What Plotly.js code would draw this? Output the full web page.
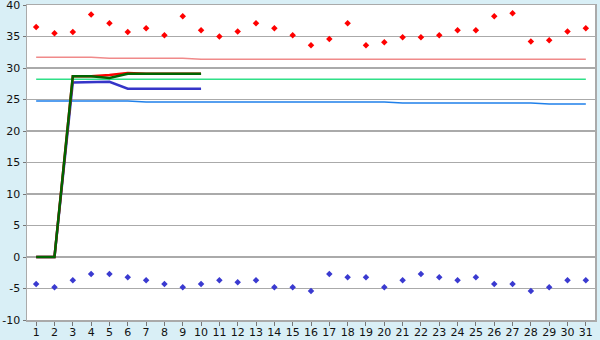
<!DOCTYPE html>
<html>
<head>
<meta charset="utf-8">
<script src="https://cdn.plot.ly/plotly-3.0.1.min.js"></script>
<style>
html,body{margin:0;padding:0;background:#d9eff6;}
#chart{width:600px;height:340px;}
</style>
</head>
<body>
<div id="chart"></div>
<script>
var days = [1,2,3,4,5,6,7,8,9,10,11,12,13,14,15,16,17,18,19,20,21,22,23,24,25,26,27,28,29,30,31];
var maxTemps = [36.5,35.5,35.7,38.5,37.1,35.7,36.3,35.2,38.2,36.0,35.0,35.8,37.1,36.3,35.2,33.6,34.6,37.1,33.6,34.1,34.9,34.9,35.2,36.0,36.0,38.2,38.7,34.2,34.4,35.8,36.3];
var minTemps = [-4.3,-4.8,-3.7,-2.7,-2.7,-3.2,-3.7,-4.3,-4.8,-4.3,-3.7,-4.0,-3.7,-4.8,-4.8,-5.4,-2.7,-3.2,-3.2,-4.8,-3.7,-2.7,-3.2,-3.7,-3.2,-4.3,-4.3,-5.4,-4.8,-3.7,-3.7];
var lineDays = [1,2,3,4,5,6,7,8,9,10];
var redLine = [0,0,28.7,28.7,28.9,29.2,29.1,29.1,29.1,29.1];
var greenLine = [0,0,28.7,28.7,28.4,29.1,29.1,29.1,29.1,29.1];
var blueLine = [0,0,27.7,27.7,27.8,26.7,26.7,26.7,26.7,26.7];
var pinkRef = [31.7,31.7,31.7,31.7,31.55,31.55,31.55,31.55,31.55,31.4,31.4,31.4,31.4,31.4,31.4,31.4,31.4,31.4,31.4,31.4,31.4,31.4,31.4,31.4,31.4,31.4,31.4,31.4,31.4,31.4,31.4];
var greenRef = [28.2,28.2,28.2,28.2,28.2,28.2,28.2,28.2,28.2,28.2,28.2,28.2,28.2,28.2,28.2,28.2,28.2,28.2,28.2,28.2,28.2,28.2,28.2,28.2,28.2,28.2,28.2,28.2,28.2,28.2,28.2];
var blueRef = [24.75,24.75,24.75,24.75,24.75,24.75,24.6,24.6,24.6,24.6,24.6,24.6,24.6,24.6,24.6,24.6,24.6,24.6,24.6,24.6,24.43,24.43,24.43,24.43,24.43,24.43,24.43,24.43,24.27,24.27,24.27];
var yTickVals = [-10,-5,0,5,10,15,20,25,30,35,40];
var yTickLabels = ['-10','-5','0','5','10','15','20','25','30','35','40'];
var xTickLabels = days.map(String);

var traces = [
  {x: days, y: pinkRef, mode: 'lines', line: {color: '#f08a8a', width: 1.5}, hoverinfo: 'skip'},
  {x: days, y: greenRef, mode: 'lines', line: {color: '#30e088', width: 1.5}, hoverinfo: 'skip'},
  {x: days, y: blueRef, mode: 'lines', line: {color: '#1f80ea', width: 1.5}, hoverinfo: 'skip'},
  {x: lineDays, y: blueLine, mode: 'lines', line: {color: '#3535c8', width: 2.5}},
  {x: lineDays, y: redLine, mode: 'lines', line: {color: '#ff0000', width: 2.5}},
  {x: lineDays, y: greenLine, mode: 'lines', line: {color: '#006400', width: 2.5}},
  {x: days, y: maxTemps, mode: 'markers', marker: {symbol: 'diamond', size: 5, color: '#ff0000'}},
  {x: days, y: minTemps, mode: 'markers', marker: {symbol: 'diamond', size: 5, color: '#3a3ad0'}}
];

var layout = {
  width: 600, height: 340,
  margin: {l: 27, r: 5, t: 5, b: 20, pad: 0},
  paper_bgcolor: '#d9eff6',
  plot_bgcolor: '#ffffff',
  showlegend: false,
  font: {family: 'DejaVu Sans, Verdana, sans-serif', size: 11, color: '#111'},
  xaxis: {
    range: [0.5, 31.5], tickmode: 'array', tickvals: days, ticktext: xTickLabels,
    showgrid: false, zeroline: false, showline: true, mirror: true,
    linecolor: '#aaaaaa', linewidth: 1.5,
    ticks: 'outside', ticklen: 4, tickcolor: '#777', tickwidth: 1,
    ticklabelstandoff: -3, ticklabeloverflow: 'allow',
    tickfont: {size: 11, color: '#111'}, fixedrange: true
  },
  yaxis: {
    range: [-10, 40], tickmode: 'array', tickvals: yTickVals, ticktext: yTickLabels,
    showgrid: true, gridcolor: '#aaaaaa', gridwidth: 1.2,
    zeroline: false, showline: true, mirror: true,
    linecolor: '#aaaaaa', linewidth: 1.5,
    ticks: 'outside', ticklen: 3, tickcolor: '#777', tickwidth: 1,
    ticklabeloverflow: 'allow',
    tickfont: {size: 11, color: '#111'}, fixedrange: true
  }
};

Plotly.newPlot('chart', traces, layout, {displayModeBar: false, staticPlot: true});
</script>
</body>
</html>
